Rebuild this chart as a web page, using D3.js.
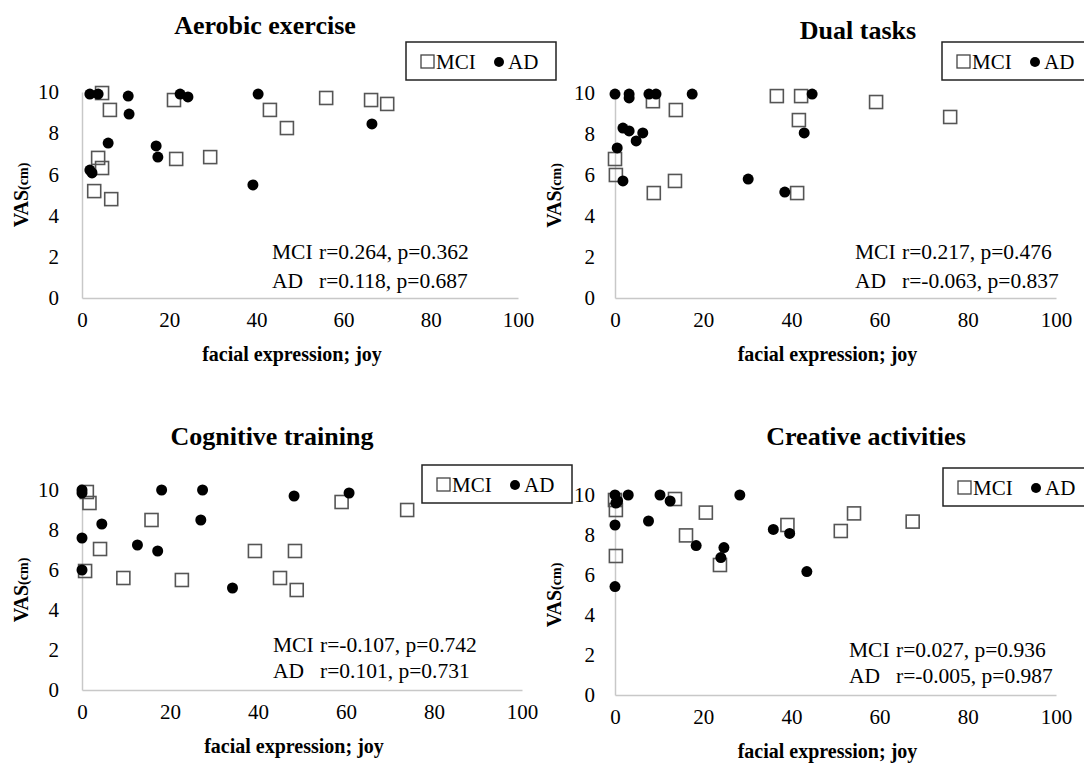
<!DOCTYPE html>
<html>
<head>
<meta charset="utf-8">
<script src="https://cdn.jsdelivr.net/npm/d3@7"></script>
<style>
  body { margin: 0; background: #fff; }
  svg { display: block; font-family: "Liberation Serif", "Times New Roman", serif; }
</style>
</head>
<body>
<div id="main"></div>
<script>
const ctx = { w: 1084, h: 766 };

// tick values shared by the four panels
const xTicks = [0, 20, 40, 60, 80, 100];
const yTicks = [0, 2, 4, 6, 8, 10];

const panelTitles = ["Aerobic exercise", "Dual tasks", "Cognitive training", "Creative activities"];

// [facial expression joy, VAS]
const aerobicMCI = [[4.6, 9.95], [6.4, 9.13], [21.1, 9.61], [43.1, 9.13], [47.0, 8.25], [56.0, 9.71], [66.3, 9.61],
  [70.0, 9.42], [3.7, 6.8], [4.6, 6.31], [21.6, 6.75], [29.4, 6.84], [2.8, 5.19], [6.7, 4.8]];
const aerobicAD = [[1.8, 9.9], [3.7, 9.9], [10.6, 9.8], [10.8, 8.93], [22.5, 9.9], [24.3, 9.76], [40.4, 9.9],
  [6.0, 7.52], [17.0, 7.38], [17.4, 6.84], [1.8, 6.21], [2.3, 6.07], [39.2, 5.49], [66.5, 8.45]];

const dualMCI = [[8.6, 9.6], [13.8, 9.17], [36.7, 9.85], [42.2, 9.85], [41.7, 8.68], [0, 6.78], [0.2, 6.0],
  [8.8, 5.12], [13.6, 5.71], [41.3, 5.12], [59.2, 9.56], [76.0, 8.83]];
const dualAD = [[0, 9.95], [3.2, 9.95], [3.2, 9.76], [7.7, 9.95], [9.3, 9.95], [17.5, 9.95], [44.7, 9.95],
  [1.8, 8.29], [3.2, 8.15], [6.3, 8.05], [4.8, 7.66], [0.5, 7.32], [1.8, 5.71], [30.2, 5.8], [38.5, 5.17], [42.9, 8.05]];

const cognitiveMCI = [[1.1, 9.9], [1.7, 9.35], [15.8, 8.5], [4.1, 7.05], [39.3, 6.95], [48.4, 6.95], [0.7, 5.95],
  [9.4, 5.6], [22.7, 5.5], [45.0, 5.6], [48.8, 5.0], [59.0, 9.4], [73.9, 9.0]];
const cognitiveAD = [[0, 10], [0, 9.85], [18.1, 10], [27.4, 10], [48.2, 9.7], [60.7, 9.85], [4.5, 8.3], [27.0, 8.5],
  [0, 7.6], [12.6, 7.25], [17.2, 6.95], [0, 6.0], [34.2, 5.1]];

const creativeMCI = [[0, 9.75], [0.2, 9.25], [13.6, 9.8], [20.6, 9.12], [16.1, 7.98], [23.8, 6.5], [39.1, 8.5],
  [0.2, 6.95], [54.2, 9.08], [51.2, 8.2], [67.5, 8.67]];
const creativeAD = [[0, 10], [0.6, 9.7], [0.2, 9.6], [3.0, 10], [10.2, 10], [12.5, 9.7], [28.3, 10], [0, 8.5],
  [7.6, 8.7], [18.4, 7.47], [24.7, 7.37], [24.0, 6.87], [35.9, 8.28], [39.6, 8.08], [43.5, 6.17], [0, 5.42]];

const statsMCI = ["r=0.264, p=0.362", "r=0.217, p=0.476", "r=-0.107, p=0.742", "r=0.027, p=0.936"];
const statsAD = ["r=0.118, p=0.687", "r=-0.063, p=0.837", "r=0.101, p=0.731", "r=-0.005, p=0.987"];

const mciSeries = [aerobicMCI, dualMCI, cognitiveMCI, creativeMCI];
const adSeries = [aerobicAD, dualAD, cognitiveAD, creativeAD];

// pixel layout of each panel
const layout = [
  { left: 82, right: 518, bottom: 298, top: 92, titleX: 265, titleY: 34, legX: 406, legY: 42, statX: 272, statY: [259, 288] },
  { left: 615, right: 1056, bottom: 298, top: 93, titleX: 858, titleY: 39, legX: 942, legY: 42, statX: 855, statY: [259, 288] },
  { left: 82, right: 522, bottom: 690, top: 490, titleX: 272, titleY: 445, legX: 422, legY: 465, statX: 273, statY: [652, 678] },
  { left: 615, right: 1056, bottom: 695, top: 495, titleX: 866, titleY: 445, legX: 943, legY: 468, statX: 849, statY: [657, 683] }
];

function drawPanel(svgEl, i) {
  const L = layout[i];
  const x = d3.scaleLinear().domain([0, 100]).range([L.left, L.right]);
  const y = d3.scaleLinear().domain([0, 10]).range([L.bottom, L.top]);
  const g = svgEl.append("g");

  g.append("text")
    .attr("x", L.titleX).attr("y", L.titleY)
    .attr("text-anchor", "middle")
    .style("font-size", "26px").style("font-weight", "bold")
    .text(panelTitles[i]);

  const gx = g.append("g")
    .attr("transform", `translate(0,${L.bottom})`)
    .call(d3.axisBottom(x).tickValues(xTicks).tickSize(0).tickPadding(14));
  const gy = g.append("g")
    .attr("transform", `translate(${L.left},0)`)
    .call(d3.axisLeft(y).tickValues(yTicks).tickSize(0).tickPadding(i % 2 ? 20 : 23));
  [gx, gy].forEach(a => {
    a.select(".domain").attr("stroke", "#c8c8c8").attr("stroke-width", 1.5);
    a.selectAll("text")
      .attr("font-family", "Liberation Serif, Times New Roman, serif")
      .style("font-size", "21px").attr("fill", "#000");
  });

  // axis titles
  g.append("text")
    .attr("x", (L.left + L.right) / 2 - 8).attr("y", L.bottom + 63)
    .attr("text-anchor", "middle")
    .style("font-size", "20px").style("font-weight", "bold")
    .text("facial expression; joy");

  const yt = g.append("text")
    .attr("transform", `translate(${L.left - 54},${(L.top + L.bottom) / 2}) rotate(-90)`)
    .attr("text-anchor", "middle")
    .style("font-weight", "bold");
  yt.append("tspan").style("font-size", "20px").text("VAS");
  yt.append("tspan").style("font-size", "14px").text("(cm)");

  // points: MCI squares first, AD dots on top
  g.selectAll(".mci").data(mciSeries[i]).enter().append("rect")
    .attr("class", "mci")
    .attr("x", d => x(d[0]) - 6.5).attr("y", d => y(d[1]) - 6.5)
    .attr("width", 13).attr("height", 13)
    .attr("fill", "none").attr("stroke", "#555").attr("stroke-width", 1.6);
  g.selectAll(".ad").data(adSeries[i]).enter().append("circle")
    .attr("class", "ad")
    .attr("cx", d => x(d[0])).attr("cy", d => y(d[1]))
    .attr("r", 5.5).attr("fill", "#000");

  // correlation text
  const st = g.append("g").style("font-size", "21.5px");
  st.append("text").attr("x", L.statX).attr("y", L.statY[0]).text("MCI");
  st.append("text").attr("x", L.statX + 47).attr("y", L.statY[0]).text(statsMCI[i]);
  st.append("text").attr("x", L.statX).attr("y", L.statY[1]).text("AD");
  st.append("text").attr("x", L.statX + 47).attr("y", L.statY[1]).text(statsAD[i]);

  // legend
  const lg = g.append("g").attr("transform", `translate(${L.legX},${L.legY})`);
  lg.append("rect").attr("width", 150).attr("height", 38)
    .attr("fill", "#fff").attr("stroke", "#222").attr("stroke-width", 1.5);
  lg.append("rect").attr("x", 15).attr("y", 13).attr("width", 13).attr("height", 13)
    .attr("fill", "none").attr("stroke", "#444").attr("stroke-width", 1.3);
  lg.append("text").attr("x", 30).attr("y", 27).style("font-size", "21px").text("MCI");
  lg.append("circle").attr("cx", 93).attr("cy", 20).attr("r", 5).attr("fill", "#000");
  lg.append("text").attr("x", 102).attr("y", 27).style("font-size", "21px").text("AD");
}

function createViz() {
  const svgEl = d3.select("#main").append("svg")
    .attr("width", ctx.w)
    .attr("height", ctx.h);
  for (let i = 0; i < 4; i++) drawPanel(svgEl, i);
}

createViz();
</script>
</body>
</html>
